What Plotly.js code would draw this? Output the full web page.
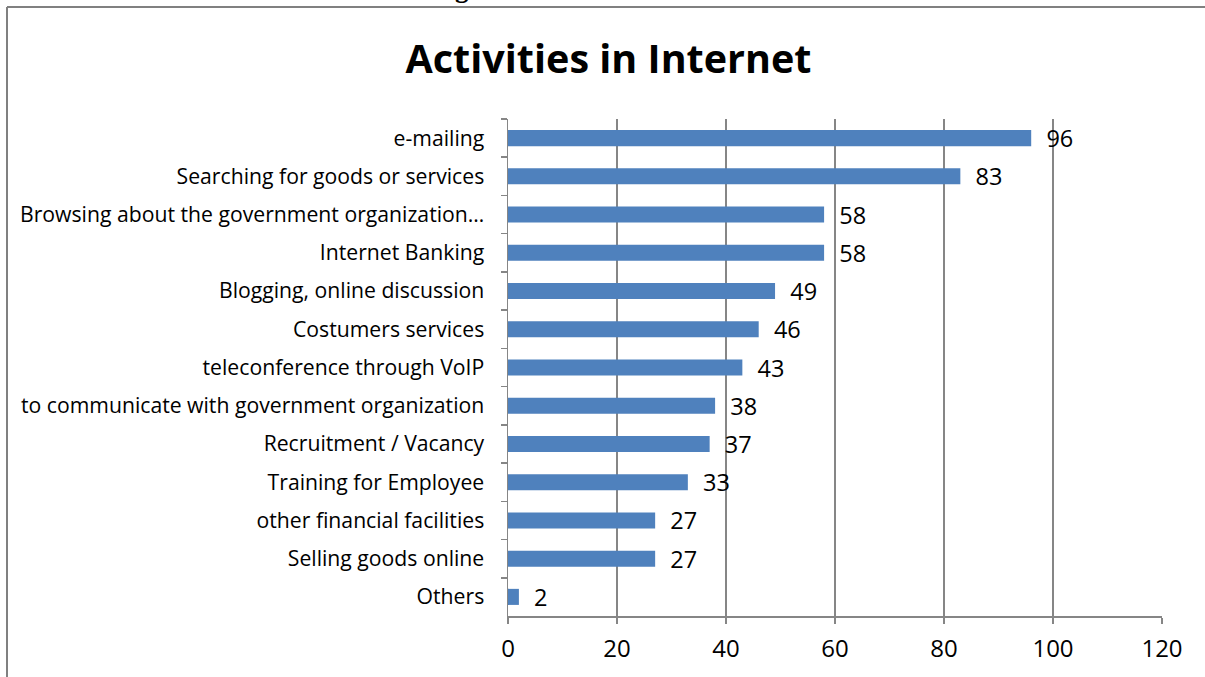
<!DOCTYPE html>
<html>
<head>
<meta charset="utf-8">
<script src="https://cdn.plot.ly/plotly-3.0.1.min.js"></script>
<style>
html,body{margin:0;padding:0;background:#fff;}
#chart{width:1205px;height:677px;}
</style>
</head>
<body>
<div id="chart"></div>
<script>
var categories = [
  "e-mailing",
  "Searching for goods or services",
  "Browsing about the government organization…",
  "Internet Banking",
  "Blogging, online discussion",
  "Costumers services",
  "teleconference through VoIP",
  "to communicate with government organization",
  "Recruitment / Vacancy",
  "Training for Employee",
  "other financial facilities",
  "Selling goods online",
  "Others"
];
var values = [96, 83, 58, 58, 49, 46, 43, 38, 37, 33, 27, 27, 2];
var xTicks = [0, 20, 40, 60, 80, 100, 120];
var chartTitle = "Activities in Internet";
var figureCaption = "Figure 2: Activities in Internet";

var gridCol = "#868686";
var trace = {
  type: "bar",
  orientation: "h",
  x: values,
  y: categories,
  width: 0.42,
  marker: {color: "#4F81BD"},
  text: values.map(function(v){ return "  " + v; }),
  textposition: "outside",
  constraintext: "none",
  textfont: {family: "Open Sans, sans-serif", size: 23.5, color: "#000"},
  cliponaxis: false,
  hoverinfo: "x+y"
};

var layout = {
  width: 1205,
  height: 677,
  margin: {l: 508, r: 43, t: 119, b: 61},
  paper_bgcolor: "#fff",
  plot_bgcolor: "#fff",
  showlegend: false,
  title: {
    text: "<b>" + chartTitle + "</b>",
    font: {family: "Open Sans, sans-serif", size: 39.5, color: "#000"},
    x: 0.505, xref: "container", xanchor: "center",
    y: 0.913, yref: "container", yanchor: "middle"
  },
  xaxis: {
    range: [0, 120],
    tickvals: xTicks,
    ticktext: xTicks.map(String),
    showgrid: true,
    gridcolor: gridCol,
    gridwidth: 1.5,
    zeroline: false,
    showline: true,
    linecolor: gridCol,
    linewidth: 1.5,
    ticks: "outside",
    ticklen: 6,
    tickcolor: gridCol,
    tickwidth: 1.5,
    ticklabelstandoff: 5,
    tickfont: {family: "Open Sans, sans-serif", size: 24, color: "#000"},
    fixedrange: true
  },
  yaxis: {
    type: "category",
    autorange: "reversed",
    showgrid: false,
    showline: true,
    linecolor: gridCol,
    linewidth: 1.5,
    ticks: "outside",
    tickson: "boundaries",
    ticklen: 6,
    tickcolor: gridCol,
    tickwidth: 1.5,
    ticklabelstandoff: 18,
    tickfont: {family: "Open Sans, sans-serif", size: 21.2, color: "#000"},
    fixedrange: true
  },
  shapes: [
    {type: "line", xref: "paper", yref: "paper",
     x0: (7 - 508) / 654, x1: (7 - 508) / 654, y0: (616 - 7) / 497, y1: (616 - 690) / 497,
     line: {color: "#808080", width: 2}},
    {type: "line", xref: "paper", yref: "paper",
     x0: (7 - 508) / 654, x1: (1210 - 508) / 654, y0: (616 - 7) / 497, y1: (616 - 7) / 497,
     line: {color: "#808080", width: 2}}
  ],
  annotations: [
    {text: "<b>" + figureCaption + "</b>", xref: "paper", yref: "paper",
     x: (605 - 508) / 654, y: (616 - 5) / 497, xanchor: "center", yanchor: "bottom",
     showarrow: false,
     font: {family: "Liberation Serif, serif", size: 27, color: "#000"}}
  ]
};

Plotly.newPlot("chart", [trace], layout, {displayModeBar: false, staticPlot: true});
</script>
</body>
</html>
